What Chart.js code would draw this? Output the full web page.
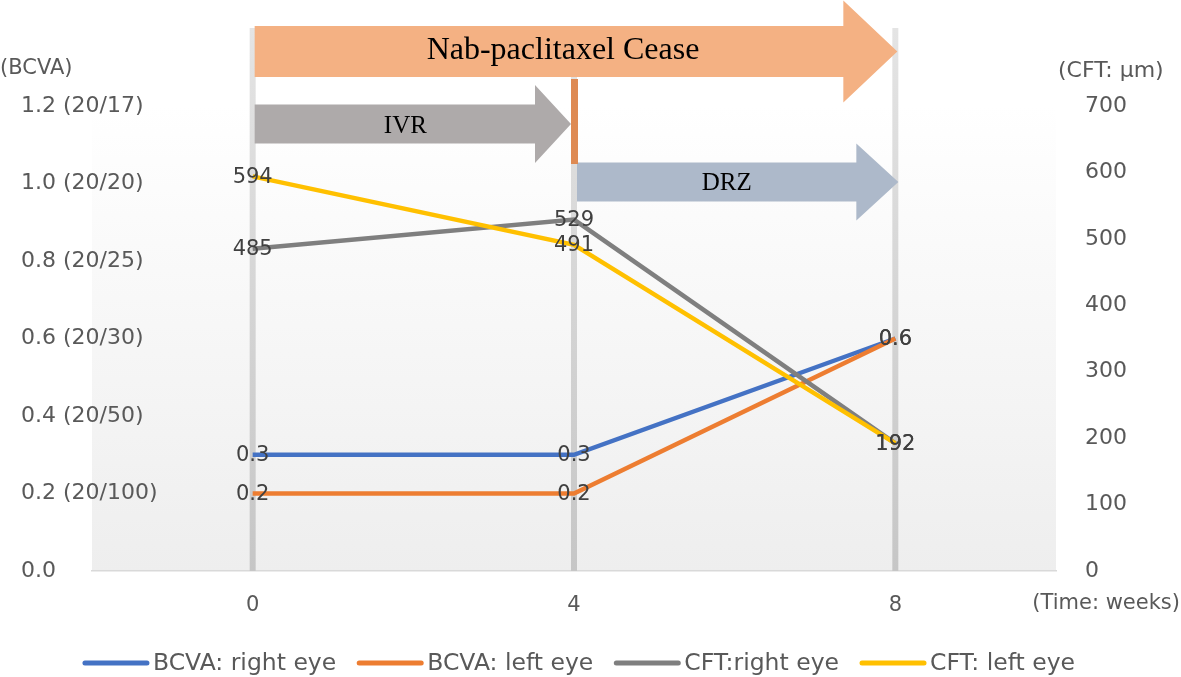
<!DOCTYPE html>
<html>
<head>
<meta charset="utf-8">
<script src="https://cdn.jsdelivr.net/npm/chart.js@4"></script>
<style>
  html, body { margin: 0; padding: 0; background: #fff; }
  #wrap { width: 1181px; height: 677px; }
</style>
</head>
<body>
<div id="wrap"><canvas id="visionChart" width="1181" height="677"></canvas></div>
<script>
// values
const weeks = [0, 4, 8];
const bcvaRight = [0.3, 0.3, 0.6];
const bcvaLeft = [0.2, 0.2, 0.6];
const cftRight = [485, 529, 192];
const cftLeft = [594, 491, 192];

const weekTicks = [0, 4, 8];
const bcvaTicks = [0, 0.2, 0.4, 0.6, 0.8, 1.0, 1.2];
const bcvaTickLabels = ["0.0", "0.2 (20/100)", "0.4 (20/50)", "0.6 (20/30)", "0.8 (20/25)", "1.0 (20/20)", "1.2 (20/17)"];
const cftTicks = [0, 100, 200, 300, 400, 500, 600, 700];

const seriesNames = ["BCVA: right eye", "BCVA: left eye", "CFT:right eye", "CFT: left eye"];
const seriesColors = ["#4472C4", "#ED7D31", "#7F7F7F", "#FFC000"];

const FONT = "'DejaVu Sans', sans-serif";
const tickColor = "#595959";

function pts(vals) {
    return weeks.map((w, i) => ({ x: w, y: vals[i] }));
}

function drawArrow(ctx, x0, tip, yc, bodyH, headH, headLen, color) {
    ctx.save();
    ctx.fillStyle = color;
    ctx.beginPath();
    ctx.moveTo(x0, yc - bodyH / 2);
    ctx.lineTo(tip - headLen, yc - bodyH / 2);
    ctx.lineTo(tip - headLen, yc - headH / 2);
    ctx.lineTo(tip, yc);
    ctx.lineTo(tip - headLen, yc + headH / 2);
    ctx.lineTo(tip - headLen, yc + bodyH / 2);
    ctx.lineTo(x0, yc + bodyH / 2);
    ctx.closePath();
    ctx.fill();
    ctx.restore();
}

// plot background (under the tick labels), grey week markers and the treatment arrows
const backdrop = {
    id: "backdrop",
    beforeDraw(chart) {
        const { ctx, chartArea: a } = chart;
        ctx.save();
        let g = ctx.createLinearGradient(0, a.top, 0, a.bottom);
        g.addColorStop(0, "#ffffff");
        g.addColorStop(1, "#eeeeee");
        ctx.fillStyle = g;
        ctx.fillRect(a.left, a.top, a.right - a.left, a.bottom - a.top);
        ctx.restore();
    },
    beforeDatasetsDraw(chart) {
        const { ctx, chartArea: a } = chart;
        const x = chart.scales.x;
        ctx.save();
        let bg = ctx.createLinearGradient(0, 28, 0, a.bottom);
        bg.addColorStop(0, "#e4e4e4");
        bg.addColorStop(1, "#c6c6c6");
        ctx.fillStyle = bg;
        weekTicks.forEach(w => {
            let px = x.getPixelForValue(w);
            ctx.fillRect(px - 3, 28, 6, a.bottom - 28);
        });

        let p0 = x.getPixelForValue(0), p4 = x.getPixelForValue(4), p8 = x.getPixelForValue(8);
        drawArrow(ctx, p0 + 2, p8 + 2, 51.5, 51, 102, 54, "#F4B183");
        drawArrow(ctx, p0 + 2, p4 - 3, 124, 39, 78, 36, "#AEAAAA");
        drawArrow(ctx, p4 + 3, p8 + 3, 182, 39, 77, 42, "#ADB9CA");
        ctx.fillStyle = "#DE8A53";
        ctx.fillRect(p4 - 3, 79, 7, 85);

        ctx.fillStyle = "#000";
        ctx.textAlign = "center";
        ctx.textBaseline = "alphabetic";
        ctx.font = "32px 'Liberation Serif', serif";
        ctx.fillText("Nab-paclitaxel Cease", (p0 + p8) / 2 - 11, 59);
        ctx.font = "25px 'Liberation Serif', serif";
        ctx.fillText("IVR", (p0 + p4) / 2 - 8, 133);
        ctx.fillText("DRZ", (p4 + p8) / 2 - 8, 190);
        ctx.restore();
    }
};

// value labels, axis titles and the legend
const labelsAndLegend = {
    id: "labelsAndLegend",
    afterDatasetsDraw(chart) {
        const { ctx } = chart;
        ctx.save();
        ctx.font = "21px " + FONT;
        ctx.fillStyle = "#404040";
        ctx.textAlign = "center";
        ctx.textBaseline = "middle";
        chart.data.datasets.forEach((ds, i) => {
            const meta = chart.getDatasetMeta(i);
            meta.data.forEach((el, j) => {
                let v = ds.data[j].y;
                let txt = ds.yAxisID === "y" ? v.toFixed(1) : String(v);
                ctx.fillText(txt, el.x, el.y + 1);
            });
        });
        ctx.restore();
    },
    afterDraw(chart) {
        const { ctx, chartArea: a } = chart;
        ctx.save();
        ctx.font = "21px " + FONT;
        ctx.fillStyle = tickColor;
        ctx.textBaseline = "middle";
        ctx.textAlign = "left";
        ctx.fillText("(BCVA)", 0, 69);
        ctx.font = "22px " + FONT;
        ctx.fillText("(CFT: \u03bcm)", 1058, 71);
        ctx.font = "21px " + FONT;
        ctx.textAlign = "right";
        ctx.fillText("(Time: weeks)", 1180, 604);

        // legend
        ctx.font = "23.5px " + FONT;
        ctx.textAlign = "left";
        const sw = 66, gap = 4, sep = 21;
        let widths = seriesNames.map(n => sw + gap + ctx.measureText(n).width);
        let total = widths.reduce((s, w) => s + w, 0) + sep * (widths.length - 1);
        let cx = (a.left + a.right) / 2 + 5 - total / 2;
        const ly = 663;
        seriesNames.forEach((n, i) => {
            ctx.beginPath();
            ctx.lineWidth = 5;
            ctx.lineCap = "round";
            ctx.strokeStyle = seriesColors[i];
            ctx.moveTo(cx + 2, ly);
            ctx.lineTo(cx + sw - 2, ly);
            ctx.stroke();
            ctx.fillStyle = tickColor;
            ctx.fillText(n, cx + sw + gap, ly + 1);
            cx += widths[i] + sep;
        });
        ctx.restore();
    }
};

let ctx = document.getElementById("visionChart").getContext("2d");
let visionChart = new Chart(ctx, {
    type: "line",
    data: {
        datasets: [
            { label: seriesNames[0], data: pts(bcvaRight), yAxisID: "y", borderColor: seriesColors[0], order: 4 },
            { label: seriesNames[1], data: pts(bcvaLeft), yAxisID: "y", borderColor: seriesColors[1], order: 3 },
            { label: seriesNames[2], data: pts(cftRight), yAxisID: "y2", borderColor: seriesColors[2], order: 2 },
            { label: seriesNames[3], data: pts(cftLeft), yAxisID: "y2", borderColor: seriesColors[3], order: 1 }
        ]
    },
    options: {
        responsive: false,
        animation: false,
        devicePixelRatio: 1,
        layout: { padding: { top: 106, left: 21, right: 0, bottom: 0 } },
        elements: {
            line: { borderWidth: 4.5, tension: 0, borderCapStyle: "butt" },
            point: { radius: 0, hoverRadius: 0 }
        },
        plugins: {
            legend: { display: false },
            tooltip: { enabled: false }
        },
        scales: {
            x: {
                type: "linear",
                min: -2,
                max: 10,
                afterBuildTicks: s => { s.ticks = weekTicks.map(v => ({ value: v })); },
                afterFit: s => { s.height = 106; },
                grid: { display: false, drawTicks: false },
                border: { display: true, color: "#d9d9d9", width: 1.5 },
                ticks: { color: tickColor, font: { family: FONT, size: 21 }, padding: 22, maxRotation: 0 }
            },
            y: {
                position: "left",
                min: 0,
                max: 1.2,
                afterBuildTicks: s => { s.ticks = bcvaTicks.map(v => ({ value: v })); },
                afterFit: s => { s.width = 71; },
                grid: { display: false, drawTicks: false },
                border: { display: false },
                ticks: {
                    color: tickColor,
                    font: { family: FONT, size: 22 },
                    mirror: true,
                    padding: -71,
                    callback: (v, i) => bcvaTickLabels[i]
                }
            },
            y2: {
                position: "right",
                min: 0,
                max: 700,
                afterBuildTicks: s => { s.ticks = cftTicks.map(v => ({ value: v })); },
                afterFit: s => { s.width = 125; },
                grid: { display: false, drawTicks: false },
                border: { display: false },
                ticks: { color: tickColor, font: { family: FONT, size: 22 }, padding: 29 }
            }
        }
    },
    plugins: [backdrop, labelsAndLegend]
});
</script>
</body>
</html>
